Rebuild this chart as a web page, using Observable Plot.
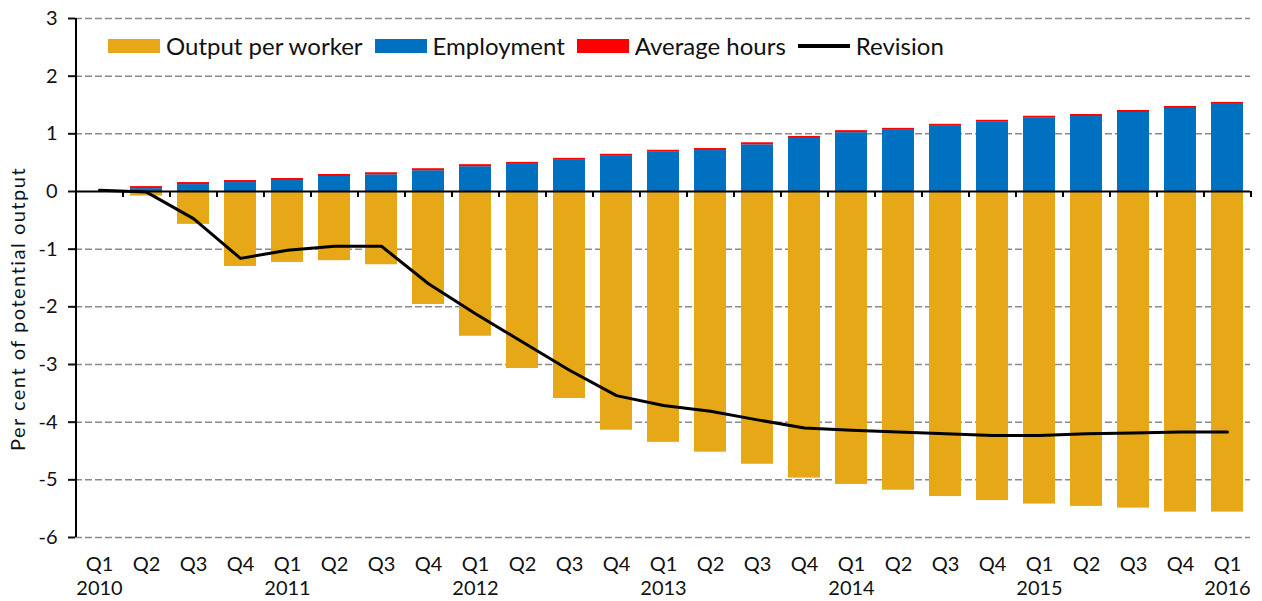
<!DOCTYPE html>
<html><head><meta charset="utf-8">
<script src="https://cdn.jsdelivr.net/npm/d3@7"></script>
<script src="https://cdn.jsdelivr.net/npm/@observablehq/plot@0.6"></script>
<style>
body{margin:0;background:#fff;}
#wrap{position:relative;width:1262px;height:601px;font-family:Lato,sans-serif;}
#legend{position:absolute;left:108px;top:34px;display:flex;align-items:center;font-size:24px;color:#111;}
.sw{width:52px;height:14px;margin-right:6px;}
.ln{width:52px;height:4px;background:#000;margin-right:6px;}
.lab{margin-right:12px;line-height:24px;}
</style></head>
<body><div id="wrap"><div id="legend"></div></div>
<script>
const periods = ["2010 Q1","2010 Q2","2010 Q3","2010 Q4","2011 Q1","2011 Q2","2011 Q3","2011 Q4","2012 Q1","2012 Q2","2012 Q3","2012 Q4","2013 Q1","2013 Q2","2013 Q3","2013 Q4","2014 Q1","2014 Q2","2014 Q3","2014 Q4","2015 Q1","2015 Q2","2015 Q3","2015 Q4","2016 Q1"];
const outputPerWorker = [0, -0.08, -0.57, -1.30, -1.23, -1.20, -1.27, -1.96, -2.51, -3.07, -3.59, -4.14, -4.35, -4.52, -4.73, -4.97, -5.08, -5.18, -5.29, -5.36, -5.42, -5.46, -5.49, -5.56, -5.56];
const employment = [0, 0.05, 0.12, 0.155, 0.19, 0.26, 0.29, 0.36, 0.43, 0.47, 0.54, 0.61, 0.68, 0.71, 0.81, 0.92, 1.02, 1.06, 1.13, 1.20, 1.27, 1.30, 1.37, 1.44, 1.51];
const averageHours = [0, 0.035, 0.035, 0.035, 0.035, 0.035, 0.035, 0.035, 0.035, 0.035, 0.035, 0.035, 0.035, 0.035, 0.035, 0.035, 0.035, 0.035, 0.035, 0.035, 0.035, 0.035, 0.035, 0.035, 0.035];
const revision = [0.02, -0.01, -0.47, -1.16, -1.02, -0.95, -0.95, -1.60, -2.12, -2.61, -3.10, -3.54, -3.71, -3.81, -3.96, -4.10, -4.14, -4.17, -4.20, -4.23, -4.23, -4.20, -4.19, -4.17, -4.17];
const seriesNames = ["Output per worker","Employment","Average hours"];
const seriesColors = ["#E6A817","#0070C0","#FF0000"];
const lineName = "Revision";
const yTicks = [-6,-5,-4,-3,-2,-1,0,1,2,3];
const gridValues = [-6,-5,-4,-3,-2,-1,1,2,3];
const yLabel = "Per cent of potential output";

const W=1262,H=601,ML=75,MR=12,MT=18,MB=64;
const step=(W-ML-MR)/periods.length;
const seriesData=[outputPerWorker,employment,averageHours];
const rows=[];
periods.forEach((p,i)=>seriesNames.forEach((s,k)=>rows.push({period:p,series:s,value:seriesData[k][i]})));
const lineRows=periods.map((p,i)=>({period:p,value:revision[i]}));

const plot = Plot.plot({
  width:W,height:H,marginLeft:ML,marginRight:MR,marginTop:MT,marginBottom:MB,
  style:{fontFamily:"Lato, sans-serif",fontSize:"20px",background:"white",overflow:"visible",color:"#111"},
  x:{type:"band",domain:periods,paddingInner:0.32,paddingOuter:0.16,label:null},
  y:{domain:[-6,3],label:null},
  color:{domain:seriesNames,range:seriesColors},
  marks:[
    Plot.ruleY(gridValues,{stroke:"#8a8a8a",strokeWidth:1.5,strokeDasharray:"7,3"}),
    Plot.barY(rows,{x:"period",y:"value",fill:"series",order:seriesNames}),
    Plot.ruleY([0],{stroke:"#000",strokeWidth:2}),
    Plot.ruleX(periods,{x:d=>d,dx:step/2,y1:0,y2:0,insetBottom:-6,stroke:"#000",strokeWidth:2}),
    Plot.ruleX([periods[0]],{x:d=>d,dx:-step/2,y1:-6,y2:3,stroke:"#000",strokeWidth:2}),
    Plot.lineY(lineRows,{x:"period",y:"value",stroke:"#000",strokeWidth:3}),
    Plot.axisY({ticks:yTicks,tickSize:7,tickPadding:11,tickFormat:d=>String(d),fontSize:20,strokeWidth:2,label:null}),
    Plot.axisX({tickSize:0,tickPadding:16,fontSize:20,lineHeight:1.2,label:null,
      tickFormat:d=>{const [yr,q]=d.split(" ");return q==="Q1"?q+"\n"+yr:q;}})
  ]
});
d3.select(plot).append("text")
  .attr("transform","translate(17,309) rotate(-90)")
  .attr("text-anchor","middle").attr("dominant-baseline","central")
  .style("font-size","20px").style("letter-spacing","1.5px").attr("fill","#111").text(yLabel);
const wrap=document.getElementById("wrap");
wrap.insertBefore(plot,wrap.firstChild);
plot.style.position="absolute";plot.style.left="0";plot.style.top="0";
const legend=d3.select("#legend");
seriesNames.forEach((s,k)=>{
  legend.append("div").attr("class","sw").style("background",seriesColors[k]);
  legend.append("div").attr("class","lab").text(s);
});
legend.append("div").attr("class","ln");
legend.append("div").attr("class","lab").text(lineName);
</script></body></html>
